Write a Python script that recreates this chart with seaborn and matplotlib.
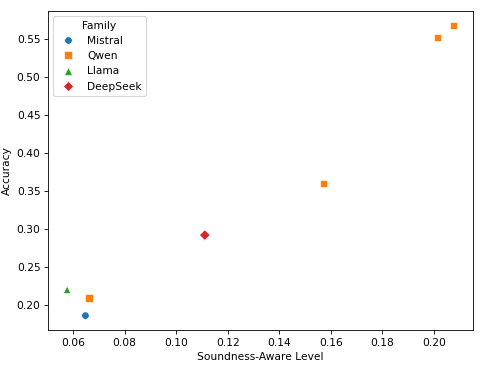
import matplotlib
matplotlib.use("Agg")
import matplotlib.pyplot as plt
import pandas as pd
import seaborn as sns

families = ["Mistral", "Qwen", "Qwen", "Qwen", "Qwen", "Llama", "DeepSeek"]
soundness = [0.0648, 0.0662, 0.1572, 0.2014, 0.2076, 0.0577, 0.1111]
accuracy = [0.186, 0.209, 0.360, 0.552, 0.568, 0.220, 0.292]

family_order = ["Mistral", "Qwen", "Llama", "DeepSeek"]
markers = {"Mistral": "o", "Qwen": "s", "Llama": "^", "DeepSeek": "D"}

df = pd.DataFrame({"Family": families, "Soundness-Aware Level": soundness, "Accuracy": accuracy})

fig, ax = plt.subplots(figsize=(6.4, 4.8), dpi=76.25)
sns.scatterplot(data=df, x="Soundness-Aware Level", y="Accuracy", hue="Family", style="Family",
                hue_order=family_order, style_order=family_order, markers=markers,
                s=50, ax=ax)
ax.legend(title="Family", loc="upper left")
fig.subplots_adjust(left=0.098, right=0.969, top=0.970, bottom=0.098)
plt.savefig("out.png", dpi=76.25)
